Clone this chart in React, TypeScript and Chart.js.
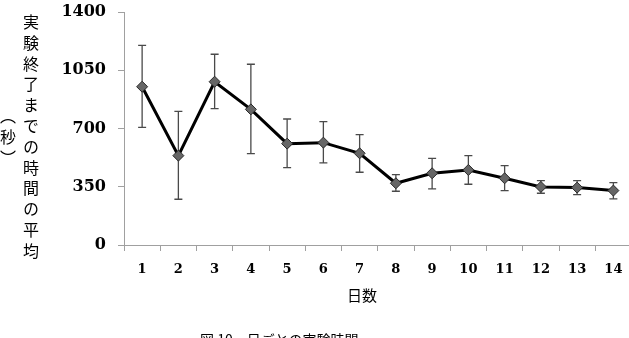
import React, { useEffect, useRef } from "react";
import { Chart, registerables } from "chart.js";

Chart.register(...registerables);

const days = ["1", "2", "3", "4", "5", "6", "7", "8", "9", "10", "11", "12", "13", "14"];
const meanTimes = [951, 537, 981, 815, 609, 615, 551, 371, 431, 451, 401, 349, 345, 327];
const errUpper = [1200, 803, 1146, 1086, 757, 741, 663, 423, 521, 537, 477, 387, 387, 375];
const errLower = [707, 275, 819, 549, 465, 493, 437, 323, 337, 365, 327, 311, 303, 277];
const yTicks = [0, 350, 700, 1050, 1400];

const yTitleMain = "実験終了までの時間の平均";
const yTitleUnit = "（秒）";
const xTitle = "日数";
const caption = "図 10　日ごとの実験時間";

const errorBars = {
  id: "errorBars",
  beforeDatasetsDraw(chart: any) {
    const { ctx, scales } = chart;
    const x = scales.x;
    const y = scales.y;
    ctx.save();
    ctx.strokeStyle = "#4a4a4a";
    ctx.lineWidth = 1.3;
    meanTimes.forEach((_, i) => {
      const px = x.getPixelForValue(i);
      const yt = y.getPixelForValue(errUpper[i]);
      const yb = y.getPixelForValue(errLower[i]);
      ctx.beginPath();
      ctx.moveTo(px, yt);
      ctx.lineTo(px, yb);
      ctx.moveTo(px - 4, yt);
      ctx.lineTo(px + 4, yt);
      ctx.moveTo(px - 4, yb);
      ctx.lineTo(px + 4, yb);
      ctx.stroke();
    });
    ctx.restore();
  },
};

export default function App() {
  const ref = useRef<HTMLCanvasElement>(null);

  useEffect(() => {
    document.body.style.margin = "0";
    if (!ref.current) return;
    const chart = new Chart(ref.current, {
      type: "line",
      data: {
        labels: days,
        datasets: [
          {
            data: meanTimes,
            borderColor: "#000",
            borderWidth: 3,
            pointStyle: "rectRot",
            pointRadius: 5.5,
            pointBackgroundColor: "#666",
            pointBorderColor: "#2a2a2a",
            pointBorderWidth: 1,
            tension: 0,
          },
        ],
      },
      options: {
        animation: false,
        responsive: false,
        maintainAspectRatio: false,
        layout: { padding: { top: 12, right: 0, left: 0, bottom: 0 } },
        plugins: {
          legend: { display: false },
          tooltip: { enabled: false },
        },
        scales: {
          x: {
            type: "category",
            offset: true,
            grid: {
              display: true,
              offset: true,
              drawOnChartArea: false,
              drawTicks: true,
              tickLength: 6,
              color: "#a0a0a0",
            },
            border: { color: "#a0a0a0", width: 1 },
            ticks: {
              color: "#000",
              font: { family: "DejaVu Serif", size: 13, weight: "bold" },
              padding: 11,
              maxRotation: 0,
            },
            afterFit: (s: any) => {
              s.height = 65;
              s.paddingLeft = 0;
              s.paddingRight = 0;
            },
          },
          y: {
            min: 0,
            max: 1400,
            afterBuildTicks: (s: any) => {
              s.ticks = yTicks.map((v) => ({ value: v }));
            },
            grid: {
              display: true,
              drawOnChartArea: false,
              drawTicks: true,
              tickLength: 6,
              color: "#a0a0a0",
            },
            border: { color: "#a0a0a0", width: 1 },
            ticks: {
              color: "#000",
              font: { family: "DejaVu Serif", size: 16, weight: "bold" },
              padding: 12,
              callback: (v: any) => String(v),
            },
            afterFit: (s: any) => {
              s.width = 124;
              s.paddingTop = 0;
              s.paddingBottom = 0;
            },
          },
        },
      },
      plugins: [errorBars],
    });
    return () => chart.destroy();
  }, []);

  return (
    <div style={{ position: "relative", width: 629, height: 338, overflow: "hidden", background: "#fff" }}>
      <canvas ref={ref} width={638} height={310} style={{ position: "absolute", left: 0, top: 0, width: 638, height: 310 }} />
      <div
        style={{
          position: "absolute",
          left: -4,
          top: 12,
          width: 46,
          height: 254,
          writingMode: "vertical-rl",
          textAlign: "center",
          fontFamily: "'Noto Sans CJK JP'",
          fontSize: 16,
          letterSpacing: "4.8px",
          lineHeight: "23px",
          color: "#000",
        }}
      >
        {yTitleMain}
        <br />
        {yTitleUnit}
      </div>
      <div
        style={{
          position: "absolute",
          left: 312,
          width: 100,
          top: 286,
          textAlign: "center",
          fontFamily: "'Noto Sans CJK JP'",
          fontSize: 15,
          lineHeight: "18px",
          color: "#000",
        }}
      >
        {xTitle}
      </div>
      <div
        style={{
          position: "absolute",
          left: 200,
          top: 331,
          fontFamily: "'Noto Sans CJK JP'",
          fontSize: 14,
          lineHeight: "16px",
          whiteSpace: "pre",
          color: "#000",
        }}
      >
        {caption}
      </div>
    </div>
  );
}
